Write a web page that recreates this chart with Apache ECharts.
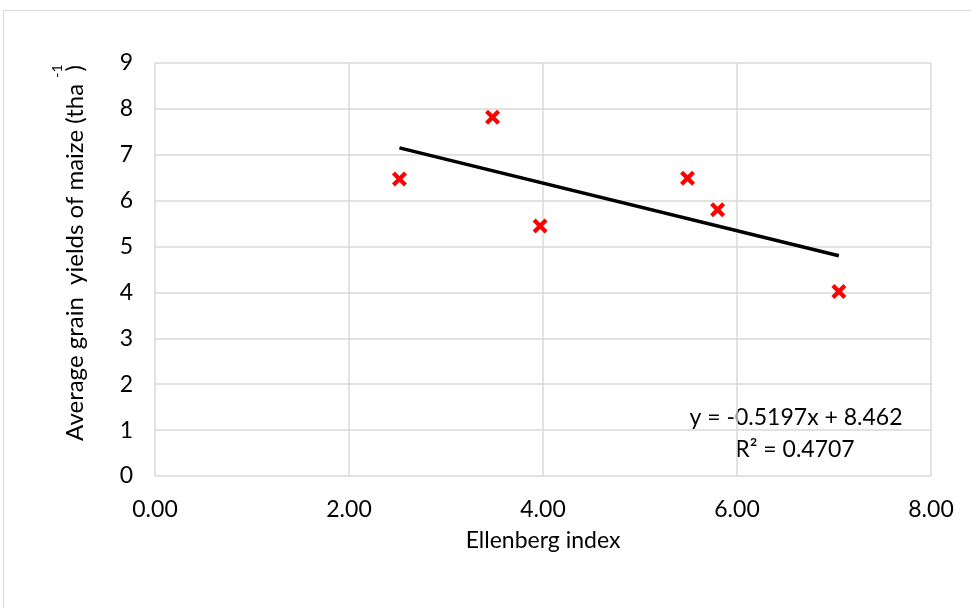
<!DOCTYPE html>
<html>
<head>
<meta charset="utf-8">
<script src="https://cdn.jsdelivr.net/npm/echarts@6/dist/echarts.min.js"></script>
<style>html,body{margin:0;padding:0;background:#fff}#c{width:971px;height:608px}</style>
</head>
<body>
<div id="c"></div>
<script>
var ellenbergX = [2.52, 3.48, 3.97, 5.49, 5.80, 7.05];
var yieldY = [6.47, 7.82, 5.45, 6.49, 5.80, 4.02];
var trendX = [2.52, 7.05];
var trendY = [7.15, 4.80];
var xTicks = [0, 2, 4, 6, 8];
var yTicks = [0, 1, 2, 3, 4, 5, 6, 7, 8, 9];
var equationText = 'y = -0.5197x + 8.462';
var r2Text = 'R² = 0.4707';
var xTitle = 'Ellenberg index';
var yTitle = 'Average grain  yields of maize (tha  )';
var yTitleSup = '-1';

var FONT = 'Lato, "Open Sans", sans-serif';
var FS = 23;
var chart = echarts.init(document.getElementById('c'));
var pts = ellenbergX.map(function (x, i) { return [x, yieldY[i]]; });
var trend = trendX.map(function (x, i) { return [x, trendY[i]]; });
var xShape = 'path://M0,2 L2,0 L5,3 L8,0 L10,2 L7,5 L10,8 L8,10 L5,7 L2,10 L0,8 L3,5 Z';

chart.setOption({
  animation: false,
  backgroundColor: '#fff',
  grid: { left: 155, right: 40, top: 63, bottom: 132 },
  xAxis: {
    type: 'value', min: xTicks[0], max: xTicks[xTicks.length - 1], interval: 2,
    name: xTitle, nameLocation: 'middle', nameGap: 53,
    nameTextStyle: { fontFamily: FONT, fontSize: FS, color: '#000', verticalAlign: 'top' },
    axisLine: { show: false }, axisTick: { show: false },
    axisLabel: { margin: 22, fontFamily: FONT, fontSize: FS, color: '#000',
      formatter: function (v) { return v.toFixed(2); } },
    splitLine: { show: true, lineStyle: { color: '#d9d9d9', width: 1.5 } }
  },
  yAxis: {
    type: 'value', min: yTicks[0], max: yTicks[yTicks.length - 1], interval: 1,
    axisLine: { show: false }, axisTick: { show: false },
    axisLabel: { margin: 22, fontFamily: FONT, fontSize: FS, color: '#000' },
    splitLine: { show: true, lineStyle: { color: '#d9d9d9', width: 1.5 } }
  },
  series: [
    {
      type: 'line', data: trend, showSymbol: false, symbol: 'none',
      lineStyle: { color: '#000', width: 3.5 }, z: 3
    },
    {
      type: 'scatter', data: pts, symbol: xShape, symbolSize: 15,
      itemStyle: { color: '#ff0000', opacity: 1 }, z: 4
    }
  ],
  graphic: [
    { type: 'rect', shape: { x: 3.5, y: 10.5, width: 1000, height: 700 },
      style: { fill: null, stroke: '#d9d9d9', lineWidth: 1 }, silent: true, z: -1 },
    { type: 'text', x: 75, y: 253, rotation: Math.PI / 2,
      style: { text: yTitle, fontFamily: FONT, fontSize: 24, fill: '#000',
        align: 'center', verticalAlign: 'middle' } },
    { type: 'text', x: 57, y: 71, rotation: Math.PI / 2,
      style: { text: yTitleSup, fontFamily: FONT, fontSize: 14, fill: '#000',
        align: 'center', verticalAlign: 'middle' } },
    { type: 'text', x: 796, y: 418,
      style: { text: equationText, fontFamily: FONT, fontSize: FS, fill: '#000',
        align: 'center', verticalAlign: 'middle' } },
    { type: 'text', x: 795, y: 450,
      style: { text: r2Text, fontFamily: FONT, fontSize: FS, fill: '#000',
        align: 'center', verticalAlign: 'middle' } }
  ]
});
</script>
</body>
</html>
